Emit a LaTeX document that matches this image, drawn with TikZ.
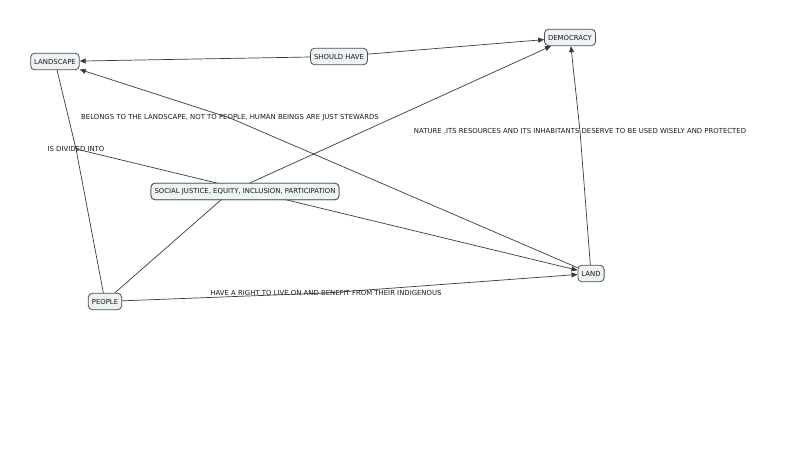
\documentclass[tikz,border=0pt]{standalone}
\usepackage{fontspec}
\setmainfont{DejaVu Sans}
\usepackage{tikz}
\usetikzlibrary{arrows.meta}

\definecolor{boxfill}{HTML}{EEF3F5}
\definecolor{boxline}{HTML}{4A4F52}
\definecolor{linkline}{HTML}{3A3A3A}
\definecolor{labeltext}{HTML}{1A1A1A}

\begin{document}
\begin{tikzpicture}[x=1pt,y=-1pt,
    font=\fontsize{6.9}{7.5}\selectfont,
    concept/.style={draw=boxline, fill=boxfill, rounded corners=4pt,
      inner xsep=3.5pt, inner ysep=0pt, minimum height=16.5pt, text=labeltext, line width=0.8pt},
    phrase/.style={inner sep=1pt, text=labeltext},
    wire/.style={draw=linkline, line width=0.7pt},
    link/.style={wire, -{Triangle[length=6pt,width=5pt]}}]
  \useasboundingbox (0,0) rectangle (800,449);
  % concepts
  \node[concept] (landscape) at (55,61.5)   {LANDSCAPE};
  \node[concept] (shouldhave) at (339,56.5) {SHOULD HAVE};
  \node[concept] (democracy) at (570,37.5)  {DEMOCRACY};
  \node[concept] (social) at (245,191.5)    {SOCIAL JUSTICE, EQUITY, INCLUSION, PARTICIPATION};
  \node[concept] (land) at (591,273.5)      {LAND};
  \node[concept] (people) at (105,301.5)    {PEOPLE};
  \coordinate (socialhub) at (230,192);
  % linking phrases
  \node[phrase] (belongs) at (230,118) {BELONGS TO THE LANDSCAPE, NOT TO PEOPLE, HUMAN BEINGS ARE JUST STEWARDS};
  \node[phrase] (nature) at (580,131)  {NATURE ,ITS RESOURCES AND ITS INHABITANTS DESERVE TO BE USED WISELY AND PROTECTED};
  \node[phrase] (divided) at (76,149)  {IS DIVIDED INTO};
  \node[phrase] (haveright) at (326,293) {HAVE A RIGHT TO LIVE ON AND BENEFIT FROM THEIR INDIGENOUS};
  % connectors
  \path (shouldhave) edge[link] (landscape)
        (shouldhave) edge[link] (democracy);
  \draw[link] (land) -- (belongs.center) -- (landscape);
  \draw[link] (land) -- (nature.center) -- (democracy);
  \draw[wire] (landscape) -- (divided.center) -- (people);
  \draw[link] (divided.center) -- (land);
  \draw[link] (people) -- (socialhub) -- (democracy);
  \draw[link] (people) -- (haveright.center) -- (land);
  % redraw the box over the lines
  \node[concept] at (social) {SOCIAL JUSTICE, EQUITY, INCLUSION, PARTICIPATION};
\end{tikzpicture}
\end{document}
